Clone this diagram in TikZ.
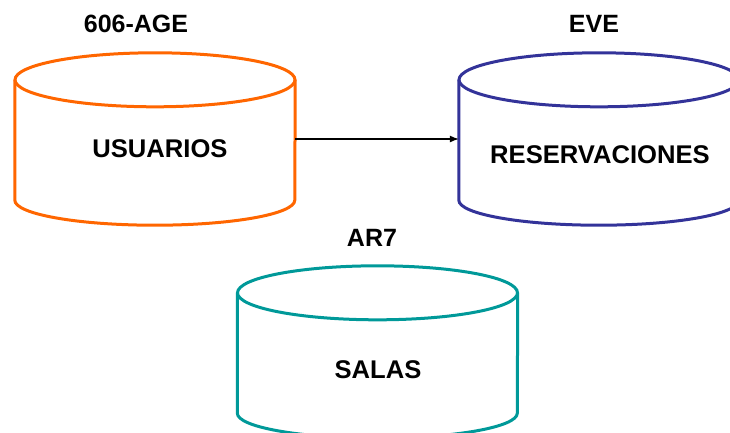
\documentclass[tikz,border=0pt]{standalone}
\usepackage{fontspec}
\setmainfont{Liberation Sans}
\usepackage{xcolor}
\usetikzlibrary{arrows.meta, positioning}

\definecolor{dborange}{HTML}{FF6600}
\definecolor{dbblue}{HTML}{333399}
\definecolor{dbteal}{HTML}{009999}

\begin{document}
\begin{tikzpicture}[
            x=1pt, y=-1pt,
            dbbody/.style={minimum width=280pt, minimum height=172pt, inner sep=0pt},
            dbline/.style={line width=3pt},
            dbtext/.style={font=\fontsize{25.6}{30}\selectfont\bfseries, inner sep=0pt},
            dbtitle/.style={font=\fontsize{25}{29}\selectfont\bfseries, inner sep=0pt},
        ]
        \useasboundingbox (0,0) rectangle (730,432);
        % cylinder bodies
        \node[dbbody] (usuarios) at (155,139) {};
        \node[dbbody] (reservaciones) at (599,139) {};
        \node[dbbody] (salas) at (377.5,352) {};
        \foreach \db/\col in {usuarios/dborange, reservaciones/dbblue, salas/dbteal} {
            \draw[dbline, \col] ([yshift=-27pt]\db.north) ellipse [x radius=140pt, y radius=27pt];
            \draw[dbline, \col] ([yshift=-27pt]\db.north west) -- ([yshift=25pt]\db.south west)
                arc[start angle=180, end angle=360, x radius=140pt, y radius=25pt]
                -- ([yshift=-27pt]\db.north east);
        }
        % texts
        \node[dbtext] (usuariosText) at (160,149) {USUARIOS};
        \node[dbtext] (reservacionesText) at (600,155) {RESERVACIONES};
        \node[dbtext] (salasText) at (378,370) {SALAS};
        \node[dbtitle] (usuariosTitle) at (136,24) {606-AGE};
        \node[dbtitle] (reservacionesTitle) at (594,24) {EVE};
        \node[dbtitle] (salasTitle) at (372,238) {AR7};
        \draw[line width=1.1pt, -{Latex[length=9pt, width=7pt]}] (usuarios) -- (reservaciones);
        \end{tikzpicture}
\end{document}
